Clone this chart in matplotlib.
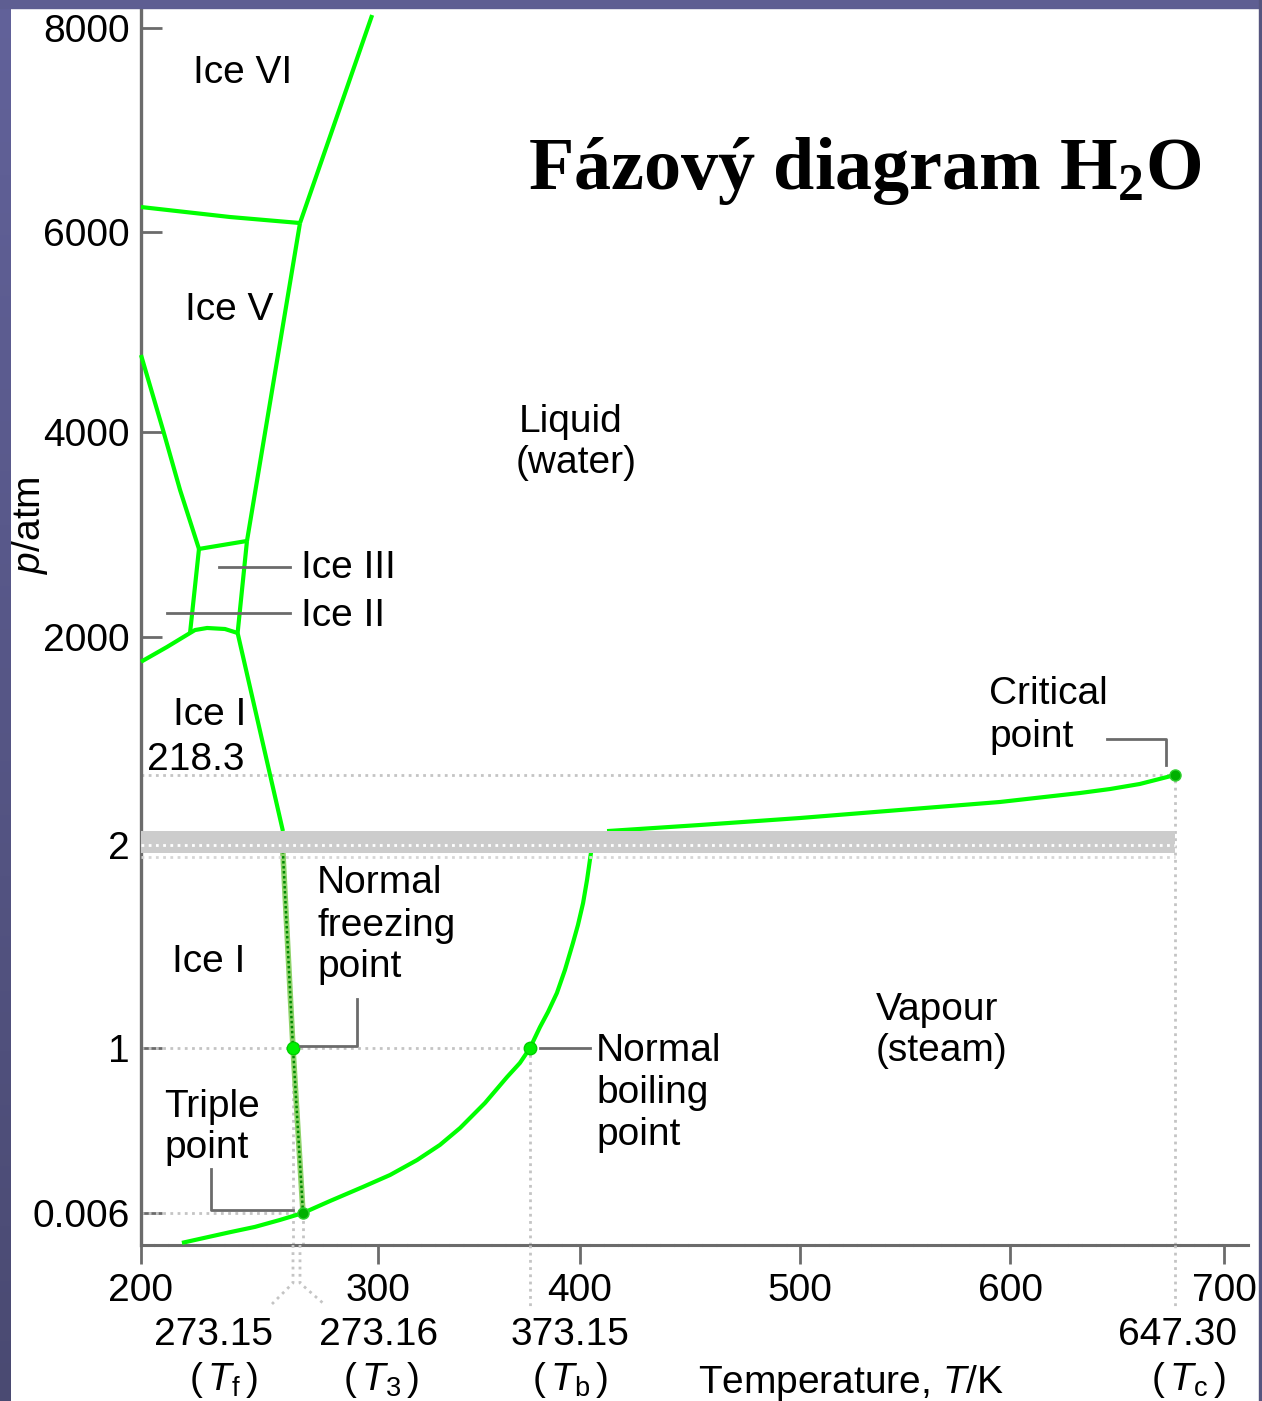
import numpy as np
import matplotlib.pyplot as plt
from matplotlib.lines import Line2D
from matplotlib.patches import Rectangle
from matplotlib.transforms import Affine2D

plt.rcParams['font.family'] = ['Liberation Sans', 'DejaVu Sans']
plt.rcParams['mathtext.fontset'] = 'custom'
plt.rcParams['mathtext.rm'] = 'Liberation Sans'
plt.rcParams['mathtext.it'] = 'Liberation Sans:italic'
plt.rcParams['mathtext.bf'] = 'Liberation Serif:bold'

# ---- phase boundaries (T in K, p in atm) ----
sub_T = [219.7, 242.8, 254.9, 266.9, 273.16]          # ice I / vapour
sub_p = [0.0004, 0.0024, 0.0034, 0.0047, 0.006]

vap_lo_T = [273.16, 282.8, 294.6, 305.8, 318.8, 329.8, 339.5, 351.5, 362.1, 368.3, 373.15,
            378.5, 382.8, 387.6, 391.9, 396.2, 398.9, 401.4, 403.2, 405.5]
vap_lo_p = [0.006, 0.078, 0.163, 0.235, 0.325, 0.416, 0.518, 0.669, 0.825, 0.910, 1.0,
            1.103, 1.177, 1.271, 1.384, 1.517, 1.606, 1.714, 1.828, 2.0]
vap_hi_T = [412.3, 454.5, 500.0, 547.6, 595.2, 620.1, 628.7, 637.2, 647.3]
vap_hi_p = [45, 63.8, 85.4, 110.2, 134.9, 162.7, 175.0, 190.5, 218.3]

melt_lo_T = [273.16, 273.15, 268.1]                  # ice I / liquid
melt_lo_p = [0.006, 1.0, 2.0]
melt_hi_T = [268.3, 246.5]
melt_hi_p = [45, 2039]

ice1_T = [200, 212.5, 223.6, 226.0, 231.8, 240.4, 246.5]   # ice I / II and I / III
ice1_p = [1680, 1871, 2039, 2068, 2088, 2078, 2039]
ice2_3_T = [223.6, 227.9]
ice2_3_p = [2039, 2859]
ice3_5_T = [227.9, 251.0]
ice3_5_p = [2859, 2937]
ice3_liq_T = [246.5, 251.0]
ice3_liq_p = [2039, 2937]
ice2_5_T = [200, 210.6, 218.8, 227.9]
ice2_5_p = [4770, 4020, 3434, 2859]
ice5_liq_T = [251.0, 273.157]
ice5_liq_p = [2937, 6088]
ice5_6_T = [200, 242.8, 273.157]
ice5_6_p = [6245, 6147, 6088]
ice6_liq_T = [273.157, 297.9]
ice6_liq_p = [6088, 8127]

T_f, T_3, T_b, T_c = 273.15, 273.16, 373.15, 647.3
p_3, p_c = 0.006, 218.3

x_ticks = [200, 300, 400, 500, 600, 700]
y_ticks = [0.006, 1, 2, 2000, 4000, 6000, 8000]
y_ticklabels = ['0.006', '1', '2', '2000', '4000', '6000', '8000']

# ---- the drawing is schematic: both axes are broken, piecewise value -> pixel ----
t_ref = [100, 200, 273.15, 273.16, 300, 373.15, 400, 500, 600, 647.3, 700, 800]
t_px = [-67, 141, 293, 303, 378, 530, 580, 800, 1010, 1175, 1224, 1317]
p_ref = [-0.006, 0, 0.006, 1, 2, 218.3, 2000, 4000, 6000, 8000, 10000]
p_px = [1277, 1245, 1213, 1048, 845, 775, 637, 432, 232, 28, -176]
neg_p_px = [-v for v in p_px]


def fx(t):
    return np.interp(t, t_ref, t_px)


def fx_inv(v):
    return np.interp(v, t_px, t_ref)


def fy(p):
    return np.interp(p, p_ref, neg_p_px)


def fy_inv(v):
    return np.interp(v, neg_p_px, p_ref)


W, H = 1262, 1401
fig = plt.figure(figsize=(W / 100, H / 100), dpi=100)
px = Affine2D().scale(1 / W, -1 / H).translate(0, 1) + fig.transFigure

ax = fig.add_axes([141 / W, (H - 1245) / H, (1248 - 141) / W, (1245 - 10) / H])
ax.set_facecolor('none')
ax.set_xscale('function', functions=(fx, fx_inv))
ax.set_yscale('function', functions=(fy, fy_inv))
ax.set_xlim(200, fx_inv(1248))
ax.set_ylim(0, fy_inv(-10))

green = '#00ff00'
axis_grey = '#6b6b6b'
grid_grey = '#c4c4c4'
dots = (0, (1, 1.6))

# boundaries
for T, p in [(sub_T, sub_p), (vap_lo_T, vap_lo_p), (vap_hi_T, vap_hi_p),
             (melt_hi_T, melt_hi_p), (ice1_T, ice1_p), (ice2_3_T, ice2_3_p),
             (ice3_5_T, ice3_5_p), (ice3_liq_T, ice3_liq_p), (ice2_5_T, ice2_5_p),
             (ice5_liq_T, ice5_liq_p), (ice5_6_T, ice5_6_p), (ice6_liq_T, ice6_liq_p)]:
    ax.plot(T, p, color=green, lw=3, solid_capstyle='butt', solid_joinstyle='round',
            zorder=3, clip_on=False)
ax.plot(melt_lo_T, melt_lo_p, color='#8fd36a', lw=4, zorder=3)
ax.plot(melt_lo_T, melt_lo_p, color='#008a00', lw=1.8, ls=(0, (1, 1)), zorder=3)

# broken-axis band
band_lo, band_hi = 1.96, 45
ax.fill_between([200, T_c], band_lo, band_hi, color='#cccccc', lw=0, zorder=4)
ax.hlines(2, 200, T_c, colors='white', linestyles=dots, lw=2, zorder=5)
ax.hlines(1.94, 200, T_c, colors='#d6d6d6', linestyles=dots, lw=2, zorder=5)

# dotted guides
gkw = dict(colors=grid_grey, linestyles=dots, lw=2, zorder=2)
ax.hlines(p_c, 200, T_c, **gkw)
ax.hlines(1, 200, T_b, **gkw)
ax.hlines(p_3, 200, T_3, **gkw)
ax.vlines([T_f, T_b], 0, 1, **gkw)
ax.vlines(T_3, 0, p_3, **gkw)
ax.vlines(T_c, 0, p_c, **gkw)

# special points
ax.plot([T_f, T_b], [1, 1], 'o', ms=9, mfc='#00f000', mec='#00d000', zorder=6)
ax.plot([T_3, T_c], [p_3, p_c], 'o', ms=8, mfc='#00b000', mec='#30d030', zorder=6, clip_on=False)

# axes styling
for s in ['top', 'right']:
    ax.spines[s].set_visible(False)
ax.spines['left'].set_color(axis_grey)
ax.spines['left'].set_linewidth(2.4)
ax.spines['bottom'].set_color(axis_grey)
ax.spines['bottom'].set_linewidth(2.2)
ax.spines['bottom'].set_linestyle((0, (4, 0.6)))

ax.set_xticks(x_ticks, [str(t) for t in x_ticks])
ax.set_yticks(y_ticks, y_ticklabels)
ax.minorticks_off()
ax.tick_params(axis='x', direction='out', length=13.5, width=2, color=axis_grey,
               labelsize=28, pad=6.5)
ax.tick_params(axis='y', direction='in', length=15, width=2, color=axis_grey,
               labelsize=28, pad=8)

ax.set_xlabel('Temperature, $T$/K', fontsize=28, va='center')
ax.xaxis.set_label_coords((851 - 141) / 1107, -(1383 - 1245) / 1235)
ax.set_ylabel('$p$/atm', fontsize=28, va='center')
ax.yaxis.set_label_coords((30 - 141) / 1107, (1245 - 525) / 1235)

# below-axis leaders to the special temperatures
lkw = dict(color=grid_grey, ls=dots, lw=2, transform=px)
xf, x3, xb, xc = fx(T_f), fx(T_3), fx(T_b), fx(T_c)
fig.add_artist(Line2D([xf, xf, 272], [1245, 1283, 1304], **lkw))
fig.add_artist(Line2D([x3 - 3, x3 - 3, 324], [1245, 1283, 1304], **lkw))
fig.add_artist(Line2D([xb, xb], [1245, 1310], **lkw))
fig.add_artist(Line2D([xc, xc], [1245, 1306], **lkw))

# labels for the special temperatures
for cx, num, cx2, sym in [(213, '273.15', 223, r'($\,T_\mathrm{f}\,$)'),
                          (379, '273.16', 381, r'($\,T_\mathrm{3}\,$)'),
                          (570, '373.15', 570, r'($\,T_\mathrm{b}\,$)'),
                          (1178, '647.30', 1188, r'($\,T_\mathrm{c}\,$)')]:
    fig.text(cx, 1335, num, transform=px, ha='center', va='center', fontsize=28)
    fig.text(cx2, 1380, sym, transform=px, ha='center', va='center', fontsize=28)

# region / point labels (left x, baseline y in pixels)
labels = [
    (193, 83, 'Ice VI'), (185, 320, 'Ice V'),
    (519, 432, 'Liquid'), (516, 473, '(water)'),
    (301, 578, 'Ice III'), (301, 626, 'Ice II'),
    (173, 725, 'Ice I'), (147, 770, '218.3'),
    (989, 704, 'Critical'), (989, 747, 'point'),
    (317, 893, 'Normal'), (317, 936, 'freezing'), (317, 977, 'point'),
    (172, 972, 'Ice I'),
    (876, 1020, 'Vapour'), (876, 1061, '(steam)'),
    (596, 1061, 'Normal'), (596, 1103, 'boiling'), (596, 1145, 'point'),
    (164, 1117, 'Triple'), (164, 1158, 'point'),
]
for x, y, s in labels:
    fig.text(x, y, s, transform=px, ha='left', va='baseline', fontsize=28)

# pointer lines
pkw = dict(color=axis_grey, lw=2, transform=px, zorder=7)
for xs, ys in [([219, 290], [567, 567]), ([167, 290], [613, 613]),
               ([1107, 1166, 1166], [739, 739, 765]),
               ([300, 357, 357], [1046, 1046, 999]),
               ([540, 590], [1048, 1048]),
               ([211, 211, 293], [1169, 1210, 1210])]:
    fig.add_artist(Line2D(xs, ys, **pkw))

# title
fig.text(528, 189, r'Fázový diagram H$_\mathbf{2}$O', transform=px, ha='left', va='baseline',
         family='Liberation Serif', weight='bold', fontsize=53.4)

# slide frame
frame = '#5e5e92'
fig.add_artist(Rectangle((0, 0), W, 8, transform=px, color=frame, zorder=10))
fig.add_artist(Rectangle((1259, 0), 3, H, transform=px, color='#55557f', zorder=10))
side = fig.add_axes([0, 0, 11 / W, 1])
side.imshow(np.linspace(0, 1, 256).reshape(-1, 1), aspect='auto',
            cmap=plt.matplotlib.colors.LinearSegmentedColormap.from_list('fr', ['#62629a', '#4a4a72']),
            extent=[0, 1, 0, 1])
side.axis('off')

fig.savefig('out.png', dpi=100)
